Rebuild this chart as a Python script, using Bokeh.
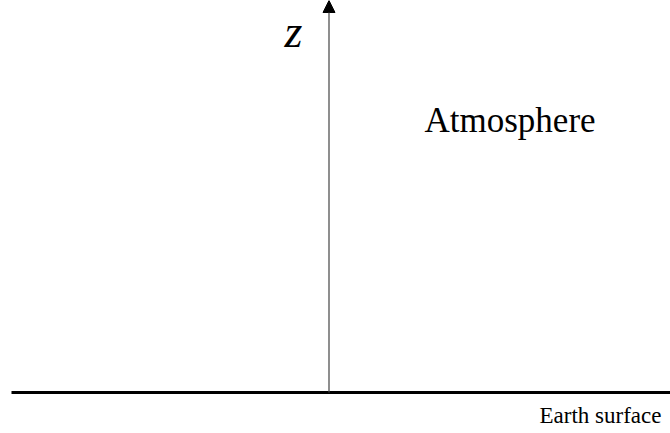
from bokeh.plotting import figure
from bokeh.models import Range1d, Arrow, NormalHead, ColumnDataSource
from bokeh.core.properties import value
from bokeh.embed import file_html
from bokeh.resources import INLINE

# Diagram geometry (pixel units, y measured upward from bottom edge)
ground_x = [11, 670]
ground_y = [41, 41]
axis_x = [328.5, 328.5]
axis_y = [41, 433]
labels = ["z", "Atmosphere", "Earth surface"]
label_x = [284, 424, 539]
label_y = [402, 313, 18.5]
label_size = ["46px", "35px", "23px"]
label_style = ["italic", "normal", "normal"]

p = figure(width=670, height=433, output_backend="svg", toolbar_location=None,
           x_range=Range1d(0, 670), y_range=Range1d(0, 433), min_border=0)
p.axis.visible = False
p.grid.visible = False
p.outline_line_color = None
p.background_fill_color = "white"
p.border_fill_color = "white"

p.line(ground_x, ground_y, line_color="black", line_width=3)

p.add_layout(Arrow(x_start=axis_x[0], y_start=axis_y[0], x_end=axis_x[1], y_end=axis_y[1],
                   line_color="#444444", line_width=1.2,
                   end=NormalHead(size=12, fill_color="black", line_color="black")))

src = ColumnDataSource(dict(x=label_x, y=label_y, t=labels, s=label_size, st=label_style))
p.text(x="x", y="y", text="t", source=src, text_font=value("Liberation Serif"),
       text_font_size="s", text_font_style="st", text_baseline="alphabetic",
       text_align="left", text_color="black")

open("out.html", "w").write(file_html(p, INLINE))
